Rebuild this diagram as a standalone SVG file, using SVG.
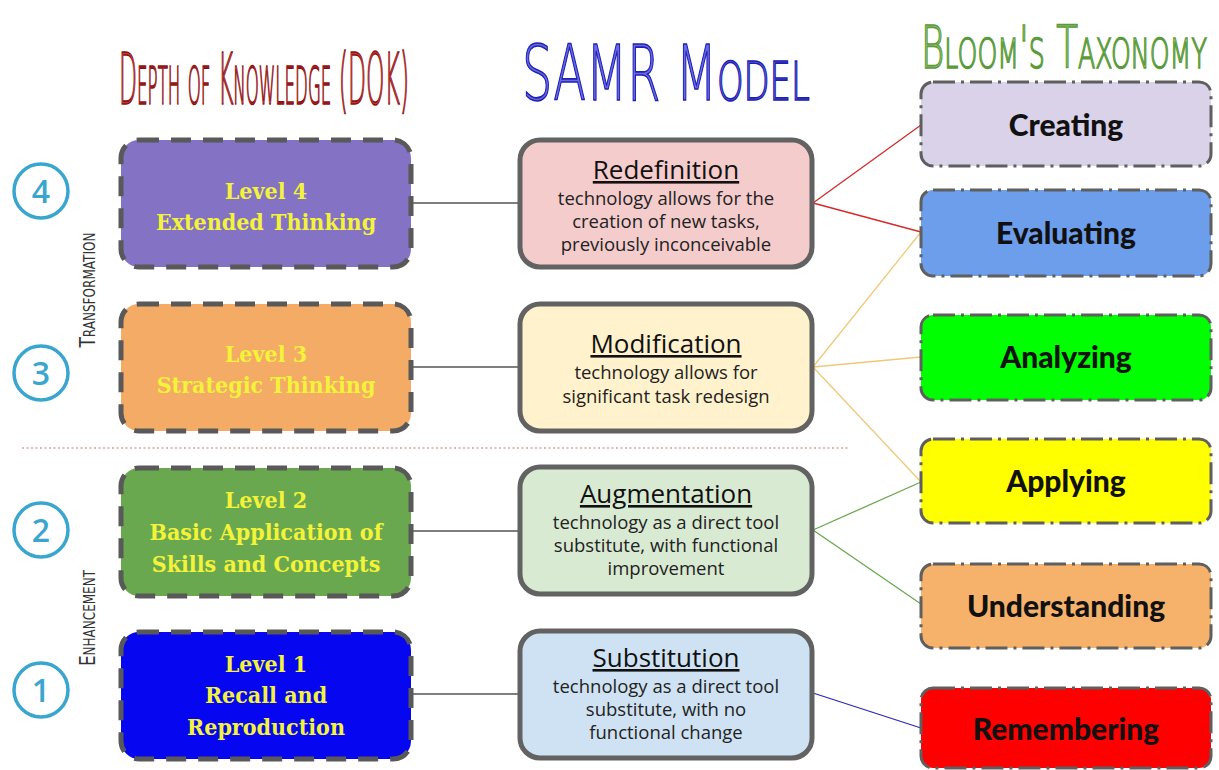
<svg xmlns="http://www.w3.org/2000/svg" width="1219" height="770" viewBox="0 0 1219 770">
<style>
.title{font-family:"DejaVu Sans","DejaVu Sans Condensed",sans-serif;font-weight:200;font-variant:small-caps;stroke-width:1.6}
.circ{fill:#fff;stroke:#3aa6cf;stroke-width:3.5}
.num{font-family:"Open Sans",sans-serif;font-weight:600;font-size:32px;fill:#3aa6cf;text-anchor:middle}
.side{font-family:"DejaVu Sans Condensed",sans-serif;font-variant:small-caps;font-size:21px;fill:#333;text-anchor:middle}
.dok{stroke:#595959;stroke-width:5;stroke-dasharray:20 12}
.dokt{font-family:"DejaVu Serif Condensed","DejaVu Serif",serif;font-weight:bold;font-size:23px;fill:#f3f33a;text-anchor:middle}
.samr{stroke:#626262;stroke-width:5}
.samrh{font-family:"Open Sans",sans-serif;font-size:26px;fill:#111;text-anchor:middle;text-decoration:underline}
.samrb{font-family:"Open Sans",sans-serif;font-size:18.5px;fill:#222;text-anchor:middle}
.bl{stroke:#5f5f5f;stroke-width:3;stroke-dasharray:22 6 3 6}
.blt{font-family:"Lato",sans-serif;font-weight:900;font-size:30px;fill:#111;text-anchor:middle}
</style>
<rect width="1219" height="770" fill="#fff"/>
<g id="titles">
<text class="title" transform="translate(119 104) scale(0.33 1)" x="0" y="0" font-size="72" fill="#c83a3a" stroke="#8a1010" textLength="879" lengthAdjust="spacingAndGlyphs">Depth of Knowledge (DOK)</text>
<text class="title" transform="translate(522 100) scale(0.634 1)" x="0" y="0" font-size="76" fill="#6a6ae8" stroke="#2020b0" textLength="454" lengthAdjust="spacingAndGlyphs">SAMR Model</text>
<text class="title" transform="translate(921 68) scale(0.612 1)" x="0" y="0" font-size="58" fill="#9ccc7a" stroke="#5a9a3a" textLength="467" lengthAdjust="spacingAndGlyphs">Bloom's Taxonomy</text>
</g>
<line x1="22" y1="448" x2="848" y2="448" stroke="#d9a3a3" stroke-width="1.5" stroke-dasharray="2 2.5"/>
<text class="side" transform="translate(95 290) rotate(-90)" textLength="115" lengthAdjust="spacingAndGlyphs">Transformation</text>
<text class="side" transform="translate(95 618) rotate(-90)" textLength="96" lengthAdjust="spacingAndGlyphs">Enhancement</text>
<g id="connectors" fill="none" stroke-width="1.3">
<line x1="412" y1="203" x2="518" y2="203" stroke="#555"/>
<line x1="412" y1="367" x2="518" y2="367" stroke="#555"/>
<line x1="412" y1="531" x2="518" y2="531" stroke="#555"/>
<line x1="412" y1="694" x2="518" y2="694" stroke="#555"/>
<line x1="813" y1="203" x2="921" y2="125" stroke="#d42a2a"/>
<line x1="813" y1="203" x2="921" y2="232" stroke="#d42a2a"/>
<line x1="813" y1="367" x2="921" y2="232" stroke="#efc978"/>
<line x1="813" y1="367" x2="921" y2="357" stroke="#efc978"/>
<line x1="813" y1="367" x2="921" y2="482" stroke="#efc978"/>
<line x1="813" y1="530" x2="921" y2="482" stroke="#6aa84f"/>
<line x1="813" y1="530" x2="921" y2="604" stroke="#6aa84f"/>
<line x1="813" y1="693" x2="921" y2="728" stroke="#2a2ab0"/>
</g>
<g id="c4"><circle class="circ" cx="41" cy="191" r="27"/><text class="num" x="41" y="203">4</text></g>
<g id="c3"><circle class="circ" cx="41" cy="373" r="27"/><text class="num" x="41" y="385">3</text></g>
<g id="c2"><circle class="circ" cx="41" cy="530" r="27"/><text class="num" x="41" y="542">2</text></g>
<g id="c1"><circle class="circ" cx="41" cy="690" r="27"/><text class="num" x="41" y="702">1</text></g>
<g id="dok4"><rect class="dok" x="121" y="140" width="290" height="127" rx="18" fill="#8472c4"/><text class="dokt" x="266" y="199">Level 4</text><text class="dokt" x="266" y="230">Extended Thinking</text></g>
<g id="dok3"><rect class="dok" x="121" y="304" width="290" height="127" rx="18" fill="#f4ab65"/><text class="dokt" x="266" y="362">Level 3</text><text class="dokt" x="266" y="393">Strategic Thinking</text></g>
<g id="dok2"><rect class="dok" x="121" y="468" width="290" height="128" rx="18" fill="#6aa84f"/><text class="dokt" x="266" y="508">Level 2</text><text class="dokt" x="266" y="540">Basic Application of</text><text class="dokt" x="266" y="572">Skills and Concepts</text></g>
<g id="dok1"><rect class="dok" x="121" y="632" width="290" height="127" rx="18" fill="#0606f0"/><text class="dokt" x="266" y="672">Level 1</text><text class="dokt" x="266" y="703">Recall and</text><text class="dokt" x="266" y="735">Reproduction</text></g>
<g id="redef"><rect class="samr" x="520" y="140" width="292" height="127" rx="20" fill="#f4cccc"/><text class="samrh" x="666" y="179">Redefinition</text><text class="samrb" x="666" y="205">technology allows for the</text><text class="samrb" x="666" y="228">creation of new tasks,</text><text class="samrb" x="666" y="251">previously inconceivable</text></g>
<g id="modif"><rect class="samr" x="520" y="304" width="292" height="127" rx="20" fill="#fff2cc"/><text class="samrh" x="666" y="353">Modification</text><text class="samrb" x="666" y="379">technology allows for</text><text class="samrb" x="666" y="403">significant task redesign</text></g>
<g id="augm"><rect class="samr" x="520" y="467" width="292" height="127" rx="20" fill="#d9ead3"/><text class="samrh" x="666" y="503">Augmentation</text><text class="samrb" x="666" y="529">technology as a direct tool</text><text class="samrb" x="666" y="552">substitute, with functional</text><text class="samrb" x="666" y="575">improvement</text></g>
<g id="subst"><rect class="samr" x="520" y="631" width="292" height="127" rx="20" fill="#cfe2f3"/><text class="samrh" x="666" y="667">Substitution</text><text class="samrb" x="666" y="693">technology as a direct tool</text><text class="samrb" x="666" y="716">substitute, with no</text><text class="samrb" x="666" y="739">functional change</text></g>
<g id="creating"><rect class="bl" x="921" y="82" width="290" height="84" rx="12" fill="#d9d2e9"/><text class="blt" x="1066" y="136">Creating</text></g>
<g id="evaluating"><rect class="bl" x="921" y="190" width="290" height="86" rx="12" fill="#6d9eeb"/><text class="blt" x="1066" y="244">Evaluating</text></g>
<g id="analyzing"><rect class="bl" x="921" y="315" width="290" height="85" rx="12" fill="#00ff00"/><text class="blt" x="1066" y="368">Analyzing</text></g>
<g id="applying"><rect class="bl" x="921" y="439" width="290" height="84" rx="12" fill="#ffff00"/><text class="blt" x="1066" y="492">Applying</text></g>
<g id="understanding"><rect class="bl" x="921" y="564" width="290" height="84" rx="12" fill="#f6b26b"/><text class="blt" x="1066" y="617">Understanding</text></g>
<g id="remembering"><rect class="bl" x="921" y="688" width="290" height="80" rx="12" fill="#ff0000"/><text class="blt" x="1066" y="740">Remembering</text></g>
</svg>
